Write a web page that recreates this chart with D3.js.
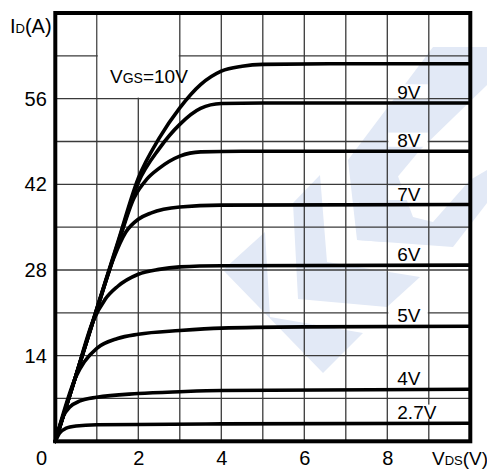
<!DOCTYPE html>
<html>
<head>
<meta charset="utf-8">
<script src="https://cdn.jsdelivr.net/npm/d3@7"></script>
<style>
  html, body { margin: 0; padding: 0; background: #fff; }
  svg { display: block; }
  text { font-family: "Liberation Sans", Arial, sans-serif; fill: #000; }
</style>
</head>
<body>
<div class="chart-container"></div>
<script>
// --- data (VDS in V, ID in A) ---
const xTicks = [2, 4, 6, 8];
const yTicks = [14, 28, 42, 56];
const xGrid = [1, 2, 3, 4, 5, 6, 7, 8, 9];
const yGrid = [7, 14, 21, 28, 35, 42, 49, 56, 63];

const vgs10 = [[0,0],[0.5,10.8],[1,21.7],[1.5,32.4],[2,43],[2.5,49.5],[3,54.5],[3.5,58.3],[4,60.5],[4.5,61.3],[5,61.6],[7,61.7],[10,61.7]];
const vgs9  = [[0,0],[0.5,10.8],[1,21.6],[1.5,32.2],[2,42.3],[2.5,47.8],[3,51.8],[3.5,54.4],[4,55.2],[5,55.3],[10,55.3]];
const vgs8  = [[0,0],[0.5,10.8],[1,21.5],[1.5,32],[1.9,39.8],[2.2,42.8],[2.5,44.6],[3,46.6],[3.5,47.3],[4.5,47.4],[10,47.4]];
const vgs7  = [[0,0],[0.5,10.8],[1,21.5],[1.4,29.8],[1.7,34.2],[2,36.3],[2.3,37.3],[3,38.3],[4,38.6],[10,38.7]];
const vgs6  = [[0,0],[0.5,10.8],[0.9,19.5],[1.2,23.2],[1.5,25.3],[2,27.3],[2.5,28.1],[3,28.5],[4,28.7],[10,28.8]];
const vgs5  = [[0,0],[0.5,10.6],[0.7,13.0],[1,15.2],[1.5,16.8],[2,17.5],[3,18.1],[4,18.5],[6,18.7],[10,18.8]];
const vgs4  = [[0,0],[0.2,4.2],[0.35,5.6],[0.6,6.6],[1,7.2],[2,7.8],[3,8.1],[4,8.3],[10,8.5]];
const vgs27 = [[0,0],[0.1,1.3],[0.25,2.1],[0.5,2.5],[1,2.7],[2,2.75],[4,2.85],[10,2.95]];

const curves = [vgs10, vgs9, vgs8, vgs7, vgs6, vgs5, vgs4, vgs27];
const curveLabels = ["9V", "8V", "7V", "6V", "5V", "4V", "2.7V"];   // for vgs9 .. vgs27

const W = 487, H = 472;
const svg = d3.select('.chart-container')
    .append('svg')
    .attr('width', W)
    .attr('height', H);

const x = d3.scaleLinear().domain([0, 10]).range([55.3, 470.3]);
const y = d3.scaleLinear().domain([0, 70]).range([441.3, 13]);

// faint logo watermark behind the grid
const watermark = [
    [[223,270],[265,232],[270,317],[363,333],[323,373]],
    [[293,203],[320,175],[327,262],[420,277],[387,307],[298,299]],
    [[433,47],[487,47],[487,85],[420,150],[395,180],[385,242],[357,240],[348,160]],
    [[373,173],[392,160],[413,217],[433,222],[470,180],[487,170],[487,203],[453,247],[357,240]]
];
svg.append('g')
    .selectAll('polygon')
    .data(watermark)
    .enter()
    .append('polygon')
    .attr('points', d => d.map(p => p.join(',')).join(' '))
    .attr('fill', '#e2e9f6');

// grid
svg.append('g')
    .selectAll('line')
    .data(xGrid)
    .enter()
    .append('line')
    .attr('x1', d => x(d)).attr('x2', d => x(d))
    .attr('y1', y(70)).attr('y2', y(0))
    .attr('stroke', '#3a3a3a')
    .attr('stroke-width', 1.3);

svg.append('g')
    .selectAll('line')
    .data(yGrid)
    .enter()
    .append('line')
    .attr('x1', x(0)).attr('x2', x(10))
    .attr('y1', d => y(d)).attr('y2', d => y(d))
    .attr('stroke', '#3a3a3a')
    .attr('stroke-width', 1.3);

// white patch behind the VGS label (two grid cells)
svg.append('rect')
    .attr('x', x(1) + 1)
    .attr('y', y(70) + 1)
    .attr('width', x(3) - x(1) - 2)
    .attr('height', y(56) - y(70) - 2)
    .attr('fill', '#fff');

// right hand labels, white box first then text
const labelG = svg.append('g');
const labelFont = 19;
const labels = labelG.selectAll('g')
    .data(curveLabels)
    .enter()
    .append('g');

labels.append('rect')
    .attr('fill', '#fff');

labels.append('text')
    .attr('x', x(8) + 10)
    .attr('y', (d, i) => {
        const c = curves[i + 1];
        return y(c[c.length - 1][1]) - 4;
    })
    .style('font-size', labelFont + 'px')
    .text(d => d);

labels.each(function() {
    const t = d3.select(this).select('text');
    const bb = t.node().getBBox();
    const base = +t.attr('y');
    const cap = labelFont * 0.72;
    const left = Math.min(bb.x - 1, x(8) + 1);
    const right = Math.max(bb.x + bb.width + 1, x(9) - 1);
    d3.select(this).select('rect')
        .attr('x', left)
        .attr('y', base - cap - 1)
        .attr('width', right - left)
        .attr('height', cap + 0.5);
});

// curves
const line = d3.line()
    .x(d => x(d[0]))
    .y(d => y(d[1]))
    .curve(d3.curveMonotoneX);

svg.append('g')
    .selectAll('path')
    .data(curves)
    .enter()
    .append('path')
    .attr('d', line)
    .attr('fill', 'none')
    .attr('stroke', '#000')
    .attr('stroke-width', 3.6)
    .attr('stroke-linecap', 'round');

// frame
svg.append('rect')
    .attr('x', x(0))
    .attr('y', y(70))
    .attr('width', x(10) - x(0))
    .attr('height', y(0) - y(70))
    .attr('fill', 'none')
    .attr('stroke', '#000')
    .attr('stroke-width', 4);

// axes tick labels
const xAxis = svg.append('g')
    .attr('transform', `translate(0,${y(0)})`)
    .call(d3.axisBottom(x).tickValues(xTicks).tickSize(0).tickPadding(9.5));
const yAxis = svg.append('g')
    .attr('transform', `translate(${x(0)},0)`)
    .call(d3.axisLeft(y).tickValues(yTicks).tickSize(0).tickPadding(8.5));

[xAxis, yAxis].forEach(a => {
    a.select('.domain').remove();
    a.selectAll('text')
        .style('font-family', '"Liberation Sans", Arial, sans-serif')
        .style('font-size', '20px')
        .attr('fill', '#000');
});

svg.append('text')
    .attr('x', 47)
    .attr('y', 465)
    .attr('text-anchor', 'end')
    .style('font-size', '20px')
    .text('0');

// axis titles and VGS label with small subscript letters
function subText(px, py, parts) {
    const t = svg.append('text').attr('x', px).attr('y', py);
    parts.forEach(p => {
        t.append('tspan').style('font-size', p[1] + 'px').text(p[0]);
    });
    return t;
}

subText(10, 33, [['I', 20], ['D', 13], ['(A)', 20]]);
subText(432, 465, [['V', 19], ['DS', 13], ['(V)', 19]]);
subText(110, 83, [['V', 19], ['GS', 14], ['=10V', 19]]);
</script>
</body>
</html>
